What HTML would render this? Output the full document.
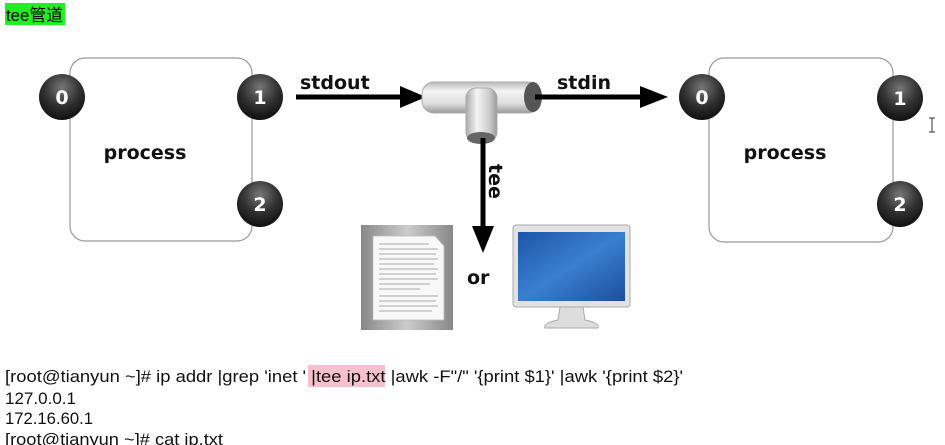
<!DOCTYPE html>
<html><head><meta charset="utf-8"><style>
html,body{margin:0;padding:0;background:#fff;}
body{width:945px;height:445px;overflow:hidden;position:relative;}
</style></head><body>
<svg width="945" height="445" viewBox="0 0 945 445" xmlns="http://www.w3.org/2000/svg" style="position:absolute;left:0;top:0">
<defs>
<radialGradient id="ball" cx="0.5" cy="0.3" r="0.75">
<stop offset="0" stop-color="#777"/><stop offset="0.5" stop-color="#333"/><stop offset="1" stop-color="#0a0a0a"/>
</radialGradient>
<linearGradient id="pipeH" x1="0" y1="0" x2="0" y2="1">
<stop offset="0" stop-color="#bbb"/><stop offset="0.3" stop-color="#f4f4f4"/><stop offset="0.7" stop-color="#ddd"/><stop offset="1" stop-color="#999"/>
</linearGradient>
<linearGradient id="pipeV" x1="0" y1="0" x2="1" y2="0">
<stop offset="0" stop-color="#aaa"/><stop offset="0.35" stop-color="#f4f4f4"/><stop offset="0.75" stop-color="#ccc"/><stop offset="1" stop-color="#999"/>
</linearGradient>
<linearGradient id="scr" x1="0" y1="0" x2="1" y2="1">
<stop offset="0" stop-color="#1d56a8"/><stop offset="0.5" stop-color="#3a7fd0"/><stop offset="1" stop-color="#1b4f9c"/>
</linearGradient>
<linearGradient id="doc" x1="0" y1="0" x2="1" y2="0">
<stop offset="0" stop-color="#888"/><stop offset="0.5" stop-color="#ccc"/><stop offset="1" stop-color="#888"/>
</linearGradient>
</defs>

<rect x="5" y="3" width="60" height="22" fill="#22ee22"/>
<text x="6" y="21" font-family="Liberation Sans, Noto Sans CJK SC, sans-serif" font-size="17" fill="#000" textLength="57" lengthAdjust="spacingAndGlyphs">tee管道</text>

<!-- left box -->
<rect x="70" y="58" width="182" height="183" rx="15" fill="#fff" stroke="#999" stroke-width="1.2"/>
<text x="145" y="159" text-anchor="middle" font-family="DejaVu Sans, sans-serif" font-weight="bold" font-size="19" fill="#111">process</text>
<g font-family="DejaVu Sans, sans-serif" font-weight="bold" font-size="19" fill="#fff" text-anchor="middle">
<circle cx="62" cy="97" r="23" fill="url(#ball)"/><text x="62" y="104">0</text>
<circle cx="260" cy="97" r="23" fill="url(#ball)"/><text x="260" y="104">1</text>
<circle cx="260" cy="204" r="23" fill="url(#ball)"/><text x="260" y="211">2</text>
</g>

<!-- right box -->
<rect x="709" y="58" width="184" height="184" rx="15" fill="#fff" stroke="#999" stroke-width="1.2"/>
<text x="785" y="159" text-anchor="middle" font-family="DejaVu Sans, sans-serif" font-weight="bold" font-size="19" fill="#111">process</text>
<g font-family="DejaVu Sans, sans-serif" font-weight="bold" font-size="19" fill="#fff" text-anchor="middle">
<circle cx="702" cy="97" r="23" fill="url(#ball)"/><text x="702" y="104">0</text>
<circle cx="900" cy="98" r="23" fill="url(#ball)"/><text x="900" y="105">1</text>
<circle cx="900" cy="204" r="23" fill="url(#ball)"/><text x="900" y="211">2</text>
</g>

<!-- stdout arrow -->
<text x="300" y="89" font-family="DejaVu Sans, sans-serif" font-weight="bold" font-size="19" fill="#111">stdout</text>
<line x1="296" y1="97" x2="405" y2="97" stroke="#000" stroke-width="5"/>
<polygon points="400,86 426,97 400,108" fill="#000"/>

<!-- pipe -->
<rect x="422" y="82" width="118" height="31" rx="12" fill="url(#pipeH)" stroke="#aaa"/>
<ellipse cx="533" cy="97" rx="9" ry="15" fill="#555"/>
<rect x="466" y="88" width="31" height="54" rx="10" fill="url(#pipeV)" stroke="#aaa"/>
<ellipse cx="481" cy="138" rx="14" ry="6" fill="#666"/>

<!-- stdin arrow -->
<text x="557" y="89" font-family="DejaVu Sans, sans-serif" font-weight="bold" font-size="19" fill="#111">stdin</text>
<line x1="535" y1="97" x2="645" y2="97" stroke="#000" stroke-width="5"/>
<polygon points="640,86 668,97 640,108" fill="#000"/>

<!-- tee arrow -->
<line x1="483" y1="138" x2="483" y2="235" stroke="#000" stroke-width="5"/>
<polygon points="472,226 483,253 494,226" fill="#000"/>
<text transform="translate(489,164) rotate(90)" font-family="DejaVu Sans, sans-serif" font-weight="bold" font-size="19" fill="#111">tee</text>

<!-- document -->
<rect x="361" y="225" width="92" height="105" fill="url(#doc)"/>
<polygon points="373,236 435,236 444,246 444,320 373,320" fill="#f8f8f8" stroke="#bbb" stroke-width="0.8"/>
<g stroke="#aaa" stroke-width="1">
<line x1="379" y1="244" x2="429" y2="244"/><line x1="379" y1="249" x2="438" y2="249"/><line x1="379" y1="254" x2="436" y2="254"/>
<line x1="379" y1="259" x2="438" y2="259"/><line x1="379" y1="264" x2="434" y2="264"/><line x1="379" y1="269" x2="438" y2="269"/>
<line x1="379" y1="274" x2="436" y2="274"/><line x1="379" y1="279" x2="438" y2="279"/><line x1="379" y1="284" x2="430" y2="284"/>
<line x1="379" y1="289" x2="420" y2="289"/><line x1="379" y1="296" x2="438" y2="296"/><line x1="379" y1="301" x2="436" y2="301"/>
<line x1="379" y1="306" x2="438" y2="306"/><line x1="379" y1="311" x2="432" y2="311"/>
</g>

<text x="467" y="284" font-family="DejaVu Sans, sans-serif" font-weight="bold" font-size="19" fill="#111">or</text>

<!-- monitor -->
<rect x="513" y="225" width="117" height="82" rx="3" fill="#e2e2e2" stroke="#aaa"/>
<rect x="518" y="232" width="107" height="69" fill="url(#scr)"/>
<path d="M560 307 L583 307 L585 320 Q600 323 598 328 L545 328 Q543 323 558 320 Z" fill="#ddd" stroke="#aaa"/>

<!-- cursor -->
<path d="M929 118 h6 M932 118 v14 M929 132 h6" stroke="#333" stroke-width="1" fill="none"/>

<!-- terminal text -->
<rect x="308" y="365" width="77" height="22" fill="#f6c0cc"/>
<g font-family="Liberation Sans, sans-serif" font-size="17" fill="#111">
<text x="5" y="382" textLength="678" lengthAdjust="spacingAndGlyphs">[root@tianyun ~]# ip addr |grep 'inet ' |tee ip.txt |awk -F"/" '{print $1}' |awk '{print $2}'</text>
<text x="5" y="404" textLength="71" lengthAdjust="spacingAndGlyphs">127.0.0.1</text>
<text x="5" y="424" textLength="88" lengthAdjust="spacingAndGlyphs">172.16.60.1</text>
<text x="5" y="445" textLength="218" lengthAdjust="spacingAndGlyphs">[root@tianyun ~]# cat ip.txt</text>
</g>
</svg>
</body></html>
